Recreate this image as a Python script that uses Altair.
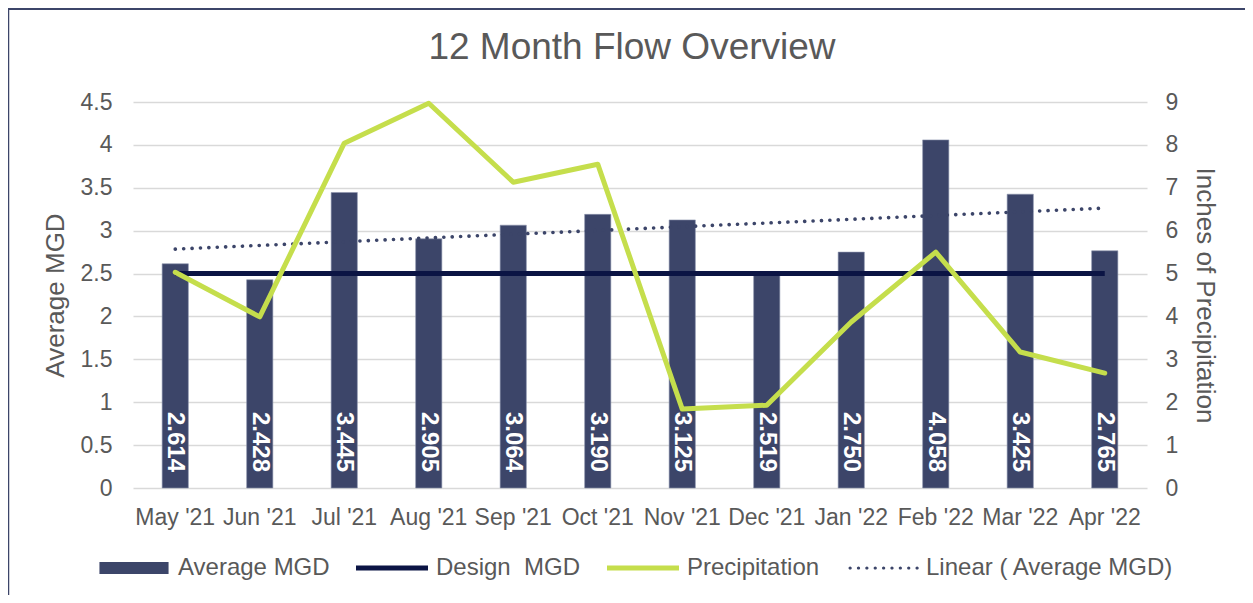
import json
import altair as alt
import pandas as pd

months = ["May '21", "Jun '21", "Jul '21", "Aug '21", "Sep '21", "Oct '21",
          "Nov '21", "Dec '21", "Jan '22", "Feb '22", "Mar '22", "Apr '22"]
avg_mgd = [2.614, 2.428, 3.445, 2.905, 3.064, 3.190, 3.125, 2.519, 2.750, 4.058, 3.425, 2.765]
design_mgd = [2.5] * 12
precip = [5.03, 3.99, 8.04, 8.97, 7.13, 7.55, 1.84, 1.93, 3.87, 5.50, 3.17, 2.68]
series = ["Average MGD", "Design\u00a0 MGD", "Precipitation", "Linear ( Average MGD)"]
left_ticks = [0, 0.5, 1, 1.5, 2, 2.5, 3, 3.5, 4, 4.5]
right_ticks = [0, 1, 2, 3, 4, 5, 6, 7, 8, 9]

BAR = "#3C4569"
DESIGN = "#0B1444"
LIME = "#C5DE4C"
TXT = "#595959"
FONT = "Liberation Sans"

df = pd.DataFrame({
    "month": months,
    "idx": list(range(len(months))),
    "avg": avg_mgd,
    "design": design_mgd,
    "precip": precip,
    "label": [f"{v:.3f}" for v in avg_mgd],
})

# legend symbol paths (unit box -1..1)
dots = "".join(
    f"M{-0.93 + i * 0.2325:.4f},0 a0.045,0.045 0 1,0 0.09,0 a0.045,0.045 0 1,0 -0.09,0 "
    for i in range(9)
)
paths = [
    "M-0.96,-0.17H0.96V0.17H-0.96Z",
    "M-1,-0.07H1V0.07H-1Z",
    "M-1,-0.07H1V0.07H-1Z",
    dots,
]
colors = [BAR, DESIGN, LIME, BAR]

xenc = alt.X(
    "month:N", sort=months,
    scale=alt.Scale(paddingInner=0.69, paddingOuter=0.345),
    axis=alt.Axis(title=None, labelAngle=0, labelPadding=18, domain=False, ticks=False,
                  labelFontSize=23, labelColor=TXT, labelFont=FONT, grid=False),
)
xplain = alt.X("month:N", sort=months)
yscale = alt.Scale(domain=[0, 4.5])
YT = "Average MGD"
base = alt.Chart(df)

bars = base.mark_bar(color=BAR, stroke="#8C93AD", strokeWidth=0.6).encode(
    x=xenc,
    y=alt.Y("avg:Q", scale=yscale, title=YT,
            axis=alt.Axis(values=left_ticks, format="~g", title=YT, domain=False, ticks=False,
                          tickSize=0, labelPadding=21, titlePadding=12,
                          labelFontSize=23, labelColor=TXT, labelFont=FONT,
                          titleFontSize=26, titleColor=TXT, titleFont=FONT, titleFontWeight="normal",
                          grid=True, gridColor="#D9D9D9", gridWidth=1.5)),
)

labels = base.mark_text(angle=90, align="right", baseline="middle", dx=-16,
                        color="white", fontSize=24, fontWeight="bold", font=FONT).encode(
    x=xplain,
    y=alt.datum(0, scale=yscale, title=YT),
    text="label:N",
)

design = base.mark_line(color=DESIGN, strokeWidth=5).encode(
    x=xplain,
    y=alt.Y("design:Q", scale=yscale, title=YT),
)

trend = base.transform_regression("idx", "avg", extent=[0, len(months) - 1]).transform_calculate(
    month=json.dumps(months) + "[round(datum.idx)]"
).mark_line(color=BAR, strokeWidth=3.6, strokeDash=[0.1, 8.3], strokeCap="round").encode(
    x=xplain,
    y=alt.Y("avg:Q", scale=yscale, title=YT),
)

legend_df = pd.DataFrame({"series": series, "month": [months[0]] * 4, "v": [-50] * 4})
leg = alt.Legend(orient="none", legendX=-35, legendY=430, direction="horizontal", title=None,
                 labelFontSize=24, labelColor=TXT, labelFont=FONT, symbolSize=5184,
                 symbolStrokeWidth=0, labelOffset=8, columnPadding=26, padding=0,
                 symbolOpacity=1, labelLimit=0)
legend_pts = alt.Chart(legend_df).mark_point(filled=True, clip=True).encode(
    x=xplain,
    y=alt.Y("v:Q", scale=yscale, title=YT),
    color=alt.Color("series:N", scale=alt.Scale(domain=series, range=colors), legend=leg),
    shape=alt.Shape("series:N", scale=alt.Scale(domain=series, range=paths), legend=leg),
)

border_df = pd.DataFrame({"k": [0]})
border_left = alt.Chart(border_df).mark_rule(color=BAR, strokeWidth=2.5).encode(
    x=alt.value(-125), y=alt.value(-94), y2=alt.value(493))
border_top = alt.Chart(border_df).mark_rule(color=BAR, strokeWidth=2).encode(
    x=alt.value(-126), x2=alt.value(1112), y=alt.value(-93))

left = alt.layer(bars, labels, design, legend_pts, trend, border_left, border_top)

precip_line = base.mark_line(color=LIME, strokeWidth=5, strokeJoin="round", strokeCap="round").encode(
    x=xplain,
    y=alt.Y("precip:Q", scale=alt.Scale(domain=[0, 9]), title="Inches of Precipitation",
            axis=alt.Axis(orient="right", values=right_ticks, grid=False, domain=False, ticks=False,
                          tickSize=0, labelPadding=18, titlePadding=14,
                          labelFontSize=23, labelColor=TXT, labelFont=FONT,
                          titleFontSize=26, titleColor=TXT, titleFont=FONT, titleFontWeight="normal")),
)

chart = alt.layer(left, precip_line).resolve_scale(y="independent").properties(
    width=1014, height=386,
    padding={"left": 125, "top": 94, "right": 98, "bottom": 107},
    autosize=alt.AutoSizeParams(type="none"),
    title=alt.Title("12 Month Flow Overview", fontSize=37, color=TXT, font=FONT,
                    fontWeight="normal", anchor="middle", offset=22, dy=82, dx=-8),
).configure_view(stroke=None)

chart.save("out.html", embed_options={"renderer": "svg", "actions": False})
